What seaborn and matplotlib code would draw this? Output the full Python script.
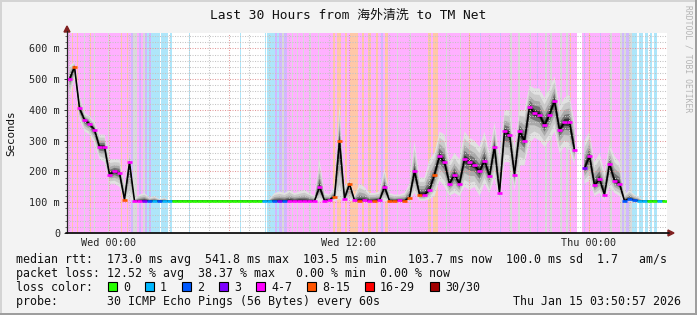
import numpy as np
import pandas as pd
import matplotlib
matplotlib.use("Agg")
import matplotlib.pyplot as plt
import seaborn as sns
from matplotlib.patches import Rectangle, Polygon
from matplotlib.lines import Line2D

# ---------------- data ----------------
nan = np.nan
t_start_h = -2.1          # hours relative to Wed 00:00
sample_step_h = 0.25      # one median sample every 15 min
bg_step_h = 0.05          # background loss columns every 3 min

median_ms = [
    500, 540, 405, 368, 355, 335, 280, 280, 190, 200,
    195, 108, 230, 104, 104, 105, 104, 104, 104, 104,
    104, 104, 104, 104, 104, 104, 104, 104, 104, 104,
    104, 104, 104, 104, 104, 104, 104, 104, 104, 104,
    104, 104, 104, 104, 105, 104, 105, 104, 104, 104,
    150, 105, 108, 118, 300, 112, 160, 106, 105, 106,
    104, 105, 106, 150, 105, 104, 106, 104, 115, 200,
    125, 125, 140, 190, 250, 230, 160, 190, 160, 240,
    230, 220, 200, 235, 185, 280, 130, 330, 320, 190,
    330, 300, 410, 390, 385, 350, 385, 430, 335, 360,
    360, 270, nan, 210, 250, 155, 175, 125, 225, 170,
    160, 104, 112, 106, 104, 104, 104, 104, 104, 104,
]

smoke_lo_ms = [
    440, 500, 370, 330, 320, 290, 240, 230, 160, 160,
    150, 104, 110, 103, 103, 103, 103, 103, 103, 103,
    103, 104, 104, 104, 104, 104, 104, 104, 104, 104,
    104, 104, 104, 104, 104, 104, 104, 104, 104, 104,
    104, 104, 104, 104, 104, 104, 104, 104, 104, 104,
    104, 104, 104, 104, 110, 104, 104, 104, 104, 104,
    104, 104, 104, 104, 104, 104, 104, 104, 105, 130,
    105, 105, 110, 120, 170, 150, 120, 130, 120, 150,
    140, 150, 120, 160, 130, 180, 110, 230, 230, 140,
    220, 220, 290, 310, 300, 280, 300, 330, 260, 280,
    270, 220, nan, 160, 170, 120, 130, 105, 150, 130,
    120, 104, 104, 104, 104, 104, 104, 104, 104, 104,
]

smoke_hi_ms = [
    545, 555, 450, 390, 380, 360, 320, 320, 240, 240,
    240, 160, 260, 110, 125, 130, 115, 120, 110, 115,
    104, 104, 104, 104, 104, 104, 104, 104, 104, 104,
    104, 104, 104, 104, 104, 104, 104, 104, 104, 104,
    110, 130, 135, 130, 140, 130, 135, 140, 130, 120,
    240, 130, 125, 150, 420, 150, 175, 120, 160, 150,
    130, 130, 135, 210, 130, 125, 125, 130, 160, 300,
    180, 180, 240, 260, 330, 320, 230, 260, 240, 330,
    310, 300, 280, 330, 260, 360, 250, 400, 400, 280,
    400, 400, 480, 470, 470, 440, 470, 510, 410, 440,
    450, 360, nan, 300, 330, 230, 260, 200, 290, 250,
    230, 125, 140, 125, 115, 104, 104, 104, 104, 104,
]

# loss class index per sample (into loss_labels)
loss_class = [
    4, 5, 4, 4, 4, 4, 4, 4, 4, 4,
    4, 5, 4, 4, 4, 3, 2, 1, 2, 1,
    1, 0, 0, 0, 0, 0, 0, 0, 0, 0,
    0, 0, 0, 0, 0, 0, 0, 0, 0, 1,
    1, 2, 3, 2, 4, 4, 4, 4, 4, 4,
    4, 4, 4, 5, 5, 4, 5, 4, 5, 4,
    4, 5, 4, 4, 5, 5, 4, 5, 5, 4,
    5, 4, 4, 5, 4, 4, 4, 4, 4, 4,
    4, 4, 4, 4, 4, 4, 4, 4, 4, 4,
    4, 4, 4, 4, 4, 4, 4, 4, 4, 4,
    4, 4, 4, 3, 4, 4, 4, 4, 4, 4,
    4, 2, 2, 2, 1, 1, 0, 0, 1, 0,
]

loss_labels = ["0", "1", "2", "3", "4-7", "8-15", "16-29", "30/30"]
loss_colors = ["#26ff00", "#00b8ff", "#0059ff", "#7e00ff",
               "#ff00ff", "#ff5500", "#ff0000", "#a10000"]

# background loss shading: (class code, number of 3-minute columns)
bg_runs = [
    ("p", 5), ("o", 1), ("p", 4), ("o", 1), ("p", 6), ("g", 1), ("p", 5), ("o", 1),
    ("p", 3), ("g", 1), ("p", 13), ("g", 1), ("p", 12), ("o", 1), ("p", 5), ("o", 1),
    ("p", 3), ("l", 2), ("g", 4), ("p", 2), ("l", 2), ("p", 2), ("g", 2), ("l", 2),
    ("b", 2), ("l", 2), ("b", 9), ("w", 1), ("b", 7), ("w", 2), ("b", 2), ("w", 17),
    ("b", 1), ("w", 50), ("b", 1), ("w", 24), ("b", 1), ("w", 1), ("b", 8), ("l", 2),
    ("b", 2), ("l", 3), ("g", 2), ("l", 3), ("p", 5), ("g", 1), ("p", 4), ("g", 1),
    ("p", 5), ("g", 1), ("p", 5), ("g", 2), ("p", 7), ("g", 1), ("p", 14), ("o", 2),
    ("p", 2), ("o", 4), ("p", 4), ("o", 2), ("p", 3), ("o", 8), ("p", 4), ("o", 2),
    ("p", 4), ("o", 3), ("p", 5), ("o", 2), ("p", 3), ("l", 2), ("p", 2), ("o", 3),
    ("p", 9), ("g", 1), ("p", 12), ("g", 1), ("p", 17), ("o", 3), ("p", 2), ("o", 5),
    ("p", 8), ("g", 1), ("p", 13), ("g", 1), ("p", 8), ("o", 1), ("p", 10), ("l", 1),
    ("p", 19), ("l", 1), ("p", 9), ("g", 2), ("p", 6), ("g", 2), ("p", 10), ("g", 1),
    ("p", 6), ("l", 1), ("p", 7), ("g", 2), ("p", 3), ("g", 2), ("p", 8), ("g", 2),
    ("p", 4), ("g", 2), ("p", 2), ("o", 1), ("p", 6), ("w", 5), ("p", 2), ("l", 1),
    ("p", 4), ("o", 1), ("p", 10), ("l", 1), ("p", 9), ("g", 2), ("p", 8), ("g", 2),
    ("l", 2), ("g", 2), ("l", 3), ("g", 3), ("b", 5), ("w", 2), ("b", 4), ("w", 2),
    ("b", 3), ("w", 2), ("b", 2), ("w", 2), ("b", 3), ("w", 10),
]
bg_colors = {"p": "#ffb0ff", "o": "#ffc8a8", "b": "#aee6fa", "l": "#d2b8ff",
             "g": "#dadada", "w": None}

y_ticks = [0, 100, 200, 300, 400, 500, 600]
y_tick_labels = ["0", "100 m", "200 m", "300 m", "400 m", "500 m", "600 m"]
x_ticks = [0, 12, 24]
x_tick_labels = ["Wed 00:00", "Wed 12:00", "Thu 00:00"]

title = "Last 30 Hours from 海外清洗 to TM Net"
stat_rows = [
    "median rtt:  173.0 ms avg  541.8 ms max  103.5 ms min   103.7 ms now  100.0 ms sd  1.7   am/s",
    "packet loss: 12.52 % avg  38.37 % max   0.00 % min  0.00 % now",
]
probe_text = "probe:       30 ICMP Echo Pings (56 Bytes) every 60s"
date_text = "Thu Jan 15 03:50:57 2026"

# ---------------- figure ----------------
sns.set_style("white")
plt.rcParams["font.family"] = ["DejaVu Sans Mono", "Noto Sans CJK SC"]

W, H = 697, 315
fig = plt.figure(figsize=(W / 100, H / 100), dpi=100)
fig.patch.set_facecolor("#f3f3f3")


def fx(x):
    return x / W


def fy(y):
    return 1 - y / H


ax = fig.add_axes([fx(67), fy(233), 600 / W, 200 / H])
ax.set_facecolor("white")
x_end = t_start_h + 600 * bg_step_h
ax.set_xlim(t_start_h, x_end)
ax.set_ylim(0, 650)

# background loss columns
t = t_start_h
for code, n in bg_runs:
    c = bg_colors[code]
    if c is not None:
        ax.axvspan(t, t + n * bg_step_h, color=c, lw=0, zorder=0)
    t += n * bg_step_h

med = np.array(median_ms, dtype=float)
lo = np.array(smoke_lo_ms, dtype=float)
hi = np.array(smoke_hi_ms, dtype=float)
ts = t_start_h + sample_step_h * (np.arange(len(med)) + 0.5)

# smoke
levels = [1.0, 0.75, 0.5, 0.3, 0.14]
shades = ["#e2e2e2", "#cbcbcb", "#a9a9a9", "#727272", "#333333"]
for k, c in zip(levels, shades):
    ax.fill_between(ts, med - (med - lo) * k, med + (hi - med) * k,
                    color=c, lw=0, zorder=1)

# grid
for yv in range(20, 650, 20):
    if yv % 100 == 0:
        ax.axhline(yv, color="#e39a9a", lw=0.75, ls=(0, (1, 1.4)), zorder=2)
    else:
        ax.axhline(yv, color="#c4c4c4", lw=0.75, ls=(0, (1, 1.4)), zorder=2)
for h in range(-2, 28):
    if h % 6 == 0:
        ax.axvline(h, color="#e39a9a", lw=0.75, ls=(0, (1, 1.4)), zorder=2)
    else:
        ax.axvline(h, color="#c4c4c4", lw=0.75, ls=(0, (1, 1.4)), zorder=2)

# median line
df = pd.DataFrame({"t": ts, "median": med,
                   "seg": np.cumsum(np.isnan(med))})
sns.lineplot(data=df, x="t", y="median", units="seg", estimator=None,
             color="black", lw=1.1, ax=ax, zorder=4, legend=False)

valid = ~np.isnan(med)
ax.hlines(med[valid], ts[valid] - sample_step_h / 2, ts[valid] + sample_step_h / 2,
          colors=[loss_colors[c] for c, v in zip(loss_class, valid) if v],
          lw=1.9, zorder=5)

# axes cosmetics
for s in ax.spines.values():
    s.set_visible(False)
ax.set_yticks(y_ticks)
ax.set_yticklabels(y_tick_labels)
ax.set_yticks(range(0, 650, 20), minor=True)
ax.set_xticks(x_ticks)
ax.set_xticklabels(x_tick_labels)
ax.tick_params(axis="y", which="major", length=2.2, width=0.7, color="#333333",
               pad=2.8, labelsize=7.3, left=True)
ax.tick_params(axis="y", which="minor", length=1.4, width=0.6, color="#555555", left=True)
ax.tick_params(axis="x", which="major", length=0, pad=3.6, labelsize=7.3)
ax.set_xlabel("")
ax.set_ylabel("")

# axis lines and arrows
fig.add_artist(Line2D([fx(67), fx(67)], [fy(233), fy(31)], color="#222222", lw=0.9))
fig.add_artist(Line2D([fx(66), fx(669)], [fy(233), fy(233)], color="#111111", lw=1.3))
arrow_c = "#7f1f1f"
fig.add_artist(Polygon([(fx(64), fy(32)), (fx(70), fy(32)), (fx(67), fy(26))],
                       closed=True, color=arrow_c, transform=fig.transFigure))
fig.add_artist(Polygon([(fx(668), fy(230)), (fx(668), fy(236)), (fx(674), fy(233))],
                       closed=True, color=arrow_c, transform=fig.transFigure))

# texts
fig.text(0.5, fy(15), title, ha="center", va="center", fontsize=9.3, color="#111111")
fig.text(fx(11), fy(133), "Seconds", rotation=90, ha="center", va="center",
         fontsize=7.8, color="#111111")
fig.text(fx(688), fy(5), "RRDTOOL / TOBI OETIKER", rotation=-90, ha="center",
         va="top", fontsize=5.8, color="#b4b4b4")

fs = 8.35
fig.text(fx(16), fy(263), stat_rows[0], fontsize=fs, va="baseline", ha="left", color="#111111")
fig.text(fx(16), fy(277), stat_rows[1], fontsize=fs, va="baseline", ha="left", color="#111111")
fig.text(fx(16), fy(291), "loss color:", fontsize=fs, va="baseline", ha="left", color="#111111")
bx = 108
for lab, col in zip(loss_labels, loss_colors):
    fig.add_artist(Rectangle((fx(bx), fy(291)), 9 / W, 9 / H, transform=fig.transFigure,
                             facecolor=col, edgecolor="black", lw=0.8))
    fig.text(fx(bx + 15), fy(291), lab, fontsize=fs, va="baseline", ha="left", color="#111111")
    bx += 7 * len(lab) + 30
fig.text(fx(16), fy(305), probe_text, fontsize=fs, va="baseline", ha="left", color="#111111")
fig.text(fx(681), fy(305), date_text, fontsize=fs, va="baseline", ha="right", color="#111111")

# frame
fig.add_artist(Rectangle((0, 0), 1, 2 / H, transform=fig.transFigure, color="#9e9e9e", lw=0))
fig.add_artist(Rectangle((1 - 2 / W, 0), 2 / W, 1, transform=fig.transFigure, color="#9e9e9e", lw=0))
fig.add_artist(Rectangle((0, 1 - 2 / H), 1 - 2 / W, 2 / H, transform=fig.transFigure, color="#d4d4d4", lw=0))
fig.add_artist(Rectangle((0, 2 / H), 2 / W, 1 - 2 / H, transform=fig.transFigure, color="#d4d4d4", lw=0))

fig.savefig("out.png", dpi=100, facecolor=fig.get_facecolor())
